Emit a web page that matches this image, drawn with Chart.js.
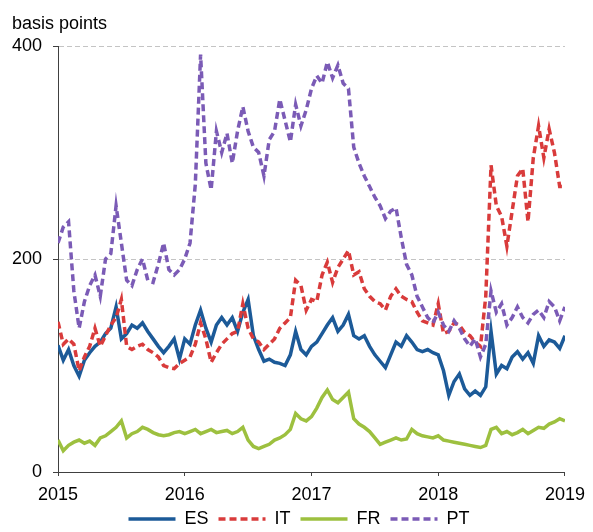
<!DOCTYPE html>
<html>
<head>
<meta charset="utf-8">
<script src="https://cdn.jsdelivr.net/npm/chart.js@4/dist/chart.umd.min.js"></script>
<style>
  html, body { margin: 0; padding: 0; background: #fff; }
  canvas { display: block; }
</style>
</head>
<body>
<canvas id="chart" width="593" height="532"></canvas>
<script>
const unitLabel = 'basis points';
const years = [2015, 2016, 2017, 2018, 2019];
const yTicks = [0, 200, 400];
const seriesNames = ['ES', 'IT', 'FR', 'PT'];

// semi-monthly readings, Jan 2015 .. Jan 2019
const ES = [119,105,115,100,90,105,112,118,122,130,
  135,155,125,130,138,135,140,132,125,118,
  112,118,125,106,125,120,138,152,135,122,
  138,145,138,145,132,150,162,128,115,104,
  106,103,102,100,110,132,115,110,118,122,
  130,138,145,132,138,148,128,125,128,118,
  110,104,98,110,122,118,128,122,115,113,
  115,112,110,95,72,85,92,78,72,76,
  72,80,132,92,100,97,108,113,106,112,
  102,128,118,124,122,116,128];
const IT = [141,120,125,120,95,108,118,135,118,128,
  138,145,162,118,115,118,120,115,112,108,
  100,98,97,102,105,108,120,140,125,103,
  112,120,125,130,132,158,135,125,122,115,
  120,125,135,140,145,180,175,152,162,160,
  185,197,178,192,200,208,185,188,172,165,
  160,158,152,165,172,165,162,160,150,142,
  140,138,158,130,132,140,138,131,128,122,
  118,165,288,250,240,212,245,278,285,235,
  295,325,295,322,300,268,268];
const FR = [30,20,25,28,30,27,29,25,32,34,
  38,42,48,32,36,38,42,40,37,35,
  34,35,37,38,36,38,40,36,38,40,
  37,38,39,36,38,42,30,24,22,24,
  26,30,32,35,40,55,50,48,52,60,
  70,77,68,65,70,75,50,45,42,38,
  32,26,28,30,32,30,31,40,36,34,
  33,32,34,30,29,28,27,26,25,24,
  23,25,40,42,36,38,35,37,40,36,
  39,42,41,45,47,50,48];
const PT = [215,230,235,170,135,160,175,185,165,200,
  205,250,215,180,175,190,200,180,178,195,
  215,190,185,190,200,215,270,392,290,265,
  320,300,318,290,320,343,320,305,300,278,
  312,320,350,330,310,345,325,340,360,372,
  365,385,370,382,365,360,305,290,278,268,
  258,250,238,245,248,220,195,185,165,155,
  145,140,150,138,132,142,135,125,118,125,
  108,120,170,150,158,138,145,155,145,140,
  148,152,145,160,155,142,155];

const values = { ES, IT, FR, PT };
const colors = { ES: '#1c5a98', IT: '#d93b3b', FR: '#9dc03f', PT: '#7b5bb6' };
const dashes = { ES: [], IT: [7, 4], FR: [], PT: [7, 4] };
const drawOrder = { ES: 3, IT: 2, FR: 1, PT: 0 }; // last series on top
const dates = ES.map((_, i) => years[0] + i / 24);

const textColor = '#000';
const axisColor = '#404040';
const gridColor = '#c4c4c4';
const font = { family: '"Liberation Sans", Arial, sans-serif', size: 18 };

// unit label top left + nudge the legend so it sits under the plot like the original
const extrasPlugin = {
  id: 'extras',
  afterLayout(chart) {
    chart.legend.left = 27;
  },
  afterDraw(chart) {
    const ctx = chart.ctx;
    ctx.save();
    ctx.font = '18px "Liberation Sans", Arial, sans-serif';
    ctx.fillStyle = textColor;
    ctx.textBaseline = 'alphabetic';
    ctx.fillText(unitLabel, 12, 29);
    ctx.restore();
  }
};

new Chart(document.getElementById('chart'), {
  type: 'line',
  data: {
    datasets: seriesNames.map(name => ({
      label: name,
      data: values[name].map((v, i) => ({ x: dates[i], y: v })),
      borderColor: colors[name],
      backgroundColor: colors[name],
      borderWidth: 3.5,
      borderDash: dashes[name],
      pointRadius: 0,
      tension: 0,
      fill: false,
      order: drawOrder[name]
    }))
  },
  options: {
    responsive: false,
    animation: false,
    devicePixelRatio: 1,
    layout: { padding: { left: 0, right: 22, top: 46, bottom: -6 } },
    plugins: {
      tooltip: { enabled: false },
      legend: {
        position: 'bottom',
        labels: {
          font, color: textColor,
          usePointStyle: true,
          pointStyleWidth: 47,
          padding: 10,
          generateLabels: chart => chart.data.datasets.map((ds, i) => ({
            text: ds.label,
            fillStyle: ds.borderColor,
            strokeStyle: ds.borderColor,
            lineWidth: ds.borderWidth,
            lineDash: ds.borderDash,
            lineCap: 'butt',
            pointStyle: 'line',
            fontColor: textColor,
            hidden: false,
            datasetIndex: i
          }))
        }
      }
    },
    scales: {
      x: {
        type: 'linear',
        min: years[0],
        max: years[years.length - 1],
        afterBuildTicks: s => { s.ticks = years.map(v => ({ value: v })); },
        afterFit: s => { s.height = 28; },
        ticks: { font, color: textColor, padding: 8, maxRotation: 0, autoSkip: false, callback: v => String(v) },
        grid: { drawOnChartArea: false, tickLength: 4, color: axisColor },
        border: { color: axisColor, width: 1 }
      },
      y: {
        min: 0,
        max: 400,
        afterBuildTicks: s => { s.ticks = yTicks.map(v => ({ value: v })); },
        afterFit: s => { s.width = 58; },
        ticks: { font, color: textColor, padding: 11 },
        grid: {
          color: c => (c.tick && c.tick.value === 0) ? 'rgba(0,0,0,0)' : gridColor,
          tickColor: axisColor,
          tickLength: 5
        },
        border: { color: axisColor, width: 1, dash: [5, 3] }
      }
    }
  },
  plugins: [extrasPlugin]
});
</script>
</body>
</html>
